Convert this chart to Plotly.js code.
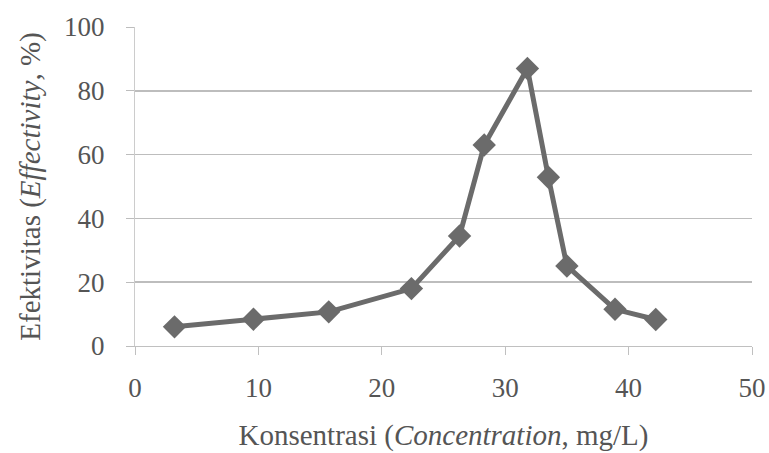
<!DOCTYPE html>
<html><head><meta charset="utf-8">
<script src="https://cdn.plot.ly/plotly-3.0.1.min.js"></script>
<style>body{margin:0;background:#fff}#c{width:769px;height:453px}</style>
</head><body><div id="c"></div>
<script>
const concentration = [3.2, 9.6, 15.7, 22.4, 26.3, 28.3, 31.8, 33.5, 35.0, 38.9, 42.2];
const effectivity = [6.0, 8.4, 10.7, 18.0, 34.5, 63.0, 87.0, 52.9, 25.1, 11.5, 8.3];
const xTicks = [0, 10, 20, 30, 40, 50];
const yTicks = [0, 20, 40, 60, 80, 100];

const font = "Liberation Serif, Times New Roman, serif";
Plotly.newPlot('c', [{
  x: concentration, y: effectivity, type: 'scatter', mode: 'lines+markers',
  line: {color: '#6b6b6b', width: 5},
  marker: {symbol: 'diamond', size: 18, color: '#6b6b6b'},
  showlegend: false, hoverinfo: 'skip'
}], {
  width: 769, height: 453,
  margin: {l: 135, r: 17, t: 27, b: 107},
  paper_bgcolor: '#fff', plot_bgcolor: '#fff',
  font: {family: font, color: '#555', size: 27},
  xaxis: {
    range: [0, 50], tickvals: xTicks, ticktext: xTicks.map(String),
    showgrid: false, zeroline: false, showline: true, linecolor: '#c0c0c0', linewidth: 1,
    ticks: 'outside', ticklen: 8, tickcolor: '#c0c0c0', ticklabelstandoff: 10,
    tickfont: {size: 27, color: '#555'},
    title: {text: 'Konsentrasi (<i>Concentration</i>, mg/L)', font: {size: 29, color: '#555'}, standoff: 22}
  },
  yaxis: {
    range: [0, 100], tickvals: yTicks, ticktext: yTicks.map(String),
    showgrid: true, gridcolor: '#bdbdbd', gridwidth: 1.5, zeroline: false,
    showline: true, linecolor: '#cccccc', linewidth: 1,
    ticks: 'outside', ticklen: 8, tickcolor: '#bdbdbd', ticklabelstandoff: 16,
    tickfont: {size: 27, color: '#555'},
    title: {text: 'Efektivitas (<i>Effectivity</i>, %)', font: {size: 29, color: '#555'}, standoff: 14}
  }
}, {staticPlot: true});
</script></body></html>
